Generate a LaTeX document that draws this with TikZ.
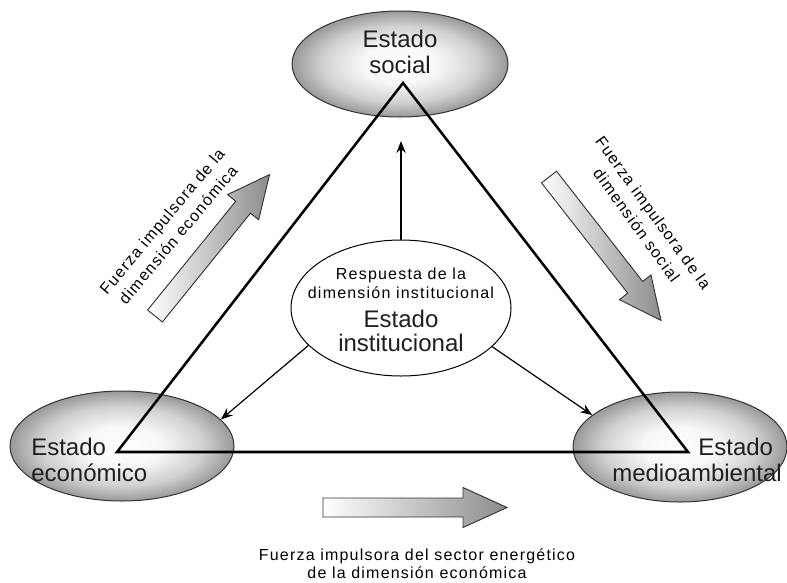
\documentclass[tikz,border=0pt]{standalone}
\usepackage{fontspec}
\setmainfont{Liberation Sans}
\newfontfamily\trackfont{Liberation Sans}[LetterSpace=7.5]
\usetikzlibrary{shapes.geometric,arrows.meta}
\pgfdeclareradialshading{ellshade}{\pgfpoint{0bp}{0bp}}{%
  color(0bp)=(white); color(9bp)=(black!3); color(18bp)=(black!18); color(25bp)=(black!40); color(50bp)=(black!40)}
\begin{document}
\begin{tikzpicture}[x=0.75pt,y=-0.75pt,
  state/.style={ellipse, draw=black!80, line width=0.75pt, inner sep=0pt, shading=ellshade},
  bigtxt/.style={font=\fontsize{18}{20}\selectfont, text=black!88, inner sep=0pt},
  smalltxt/.style={font=\trackfont\fontsize{12}{14}\selectfont, text=black, align=center, inner sep=0pt},
  rottxt/.style={smalltxt, font=\trackfont\fontsize{12}{15.5}\selectfont},
  tri/.style={line width=1.9pt, line join=miter},
  resp/.style={line width=0.9pt, -{Stealth[length=9pt,width=7pt,inset=3pt]}},
  blockarrow/.style={draw=black!80, line width=0.7pt, left color=white, right color=black!45}
]
\useasboundingbox (0,0) rectangle (787,582);
% state ellipses
\node[state, minimum width=162pt, minimum height=79.5pt] (soc) at (400,64) {};
\node[state, minimum width=168pt, minimum height=82.5pt] (eco) at (122,446) {};
\node[state, minimum width=160.5pt, minimum height=82.5pt] (med) at (680,447) {};
% triangle
\coordinate (A) at (403,83);
\coordinate (B) at (117,452);
\coordinate (C) at (688,452);
\draw[tri] (A) -- (B) -- (C) -- cycle;
% institutional ellipse
\node[ellipse, draw=black, line width=0.75pt, fill=white, minimum width=165pt, minimum height=102pt, inner sep=0pt] (ins) at (401,308) {};
% response arrows
\coordinate (up) at (401,141);
\draw[resp] (ins.north) -- (up);
\draw[resp] (ins.202.8) -- (eco.15.9);
\draw[resp] (ins.337.2) -- (med.160);
% block arrows
\begin{scope}[shift={(323,507.5)}]
  \path[blockarrow] (0,-9.5) -- (140,-9.5) -- (140,-20) -- (184,0) -- (140,20) -- (140,9.5) -- (0,9.5) -- cycle;
\end{scope}
\begin{scope}[shift={(155,316)}, rotate=51]
  \path[blockarrow] (0,-9.5) -- (140,-9.5) -- (140,-20) -- (182,0) -- (140,20) -- (140,9.5) -- (0,9.5) -- cycle;
\end{scope}
\begin{scope}[shift={(549,177)}, rotate=-52]
  \path[blockarrow] (0,-9.5) -- (140,-9.5) -- (140,-20) -- (182,0) -- (140,20) -- (140,9.5) -- (0,9.5) -- cycle;
\end{scope}
% texts
\node[bigtxt, align=center] (tsoc) at (400,52) {Estado\\social};
\node[bigtxt, align=left, anchor=west] (teco) at (31,460) {Estado\\económico};
\node[bigtxt, align=right, anchor=east] (tmed) at (782,460) {Estado\hspace*{6.5pt}\\medioambiental};
\node[smalltxt] (tresp) at (401,283) {Respuesta de la\\dimensión institucional};
\node[bigtxt, align=center, font=\fontsize{18}{18}\selectfont] (tins) at (401,331) {Estado\\institucional};
\node[rottxt, rotate=50] (tleft) at (170,228) {Fuerza impulsora de la\\dimensión económica};
\node[rottxt, rotate=-54] (tright) at (645,219) {Fuerza impulsora de la\\dimensión social};
\node[smalltxt, font=\trackfont\fontsize{12}{13.5}\selectfont] (tbot) at (417,564) {Fuerza impulsora del sector energético\\de la dimensión económica};
\end{tikzpicture}
\end{document}
